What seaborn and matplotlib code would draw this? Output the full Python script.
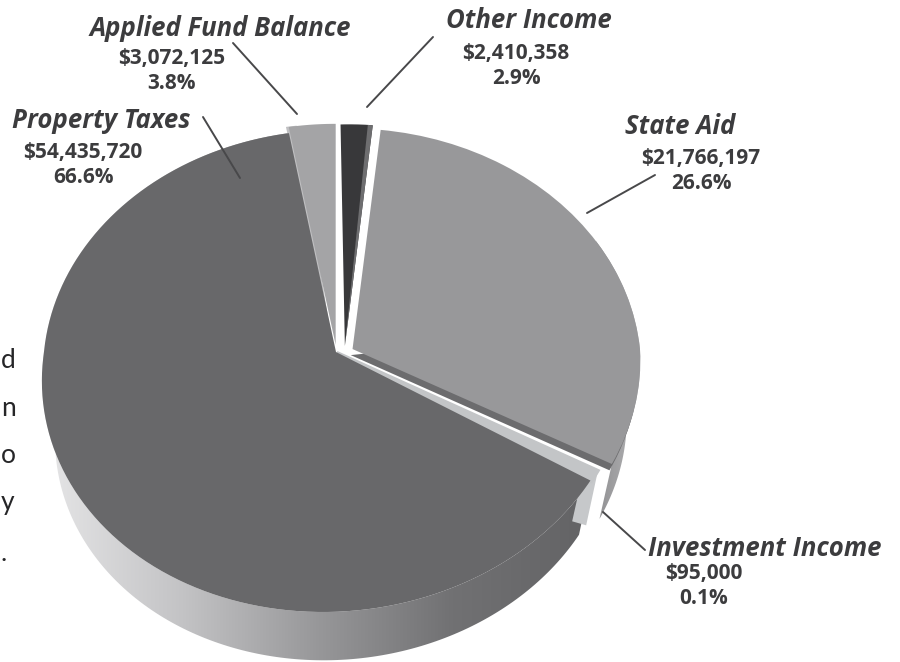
import numpy as np
import matplotlib
matplotlib.use("Agg")
import matplotlib.pyplot as plt
import matplotlib.transforms as mtransforms
from matplotlib.colors import LinearSegmentedColormap
from matplotlib.patches import Polygon, Wedge
from matplotlib.path import Path
import seaborn as sns

# Revenue sources, in the order they run counter-clockwise around the pie
sources = ["Property Taxes", "Investment Income", "State Aid", "Other Income", "Applied Fund Balance"]
amounts = [54435720, 95000, 21766197, 2410358, 3072125]
amount_labels = ["$54,435,720", "$95,000", "$21,766,197", "$2,410,358", "$3,072,125"]
share_labels = ["66.6%", "0.1%", "26.6%", "2.9%", "3.8%"]
top_colors = ["#68686a", "#c3c5c7", "#98989a", "#38383a", "#a4a4a6"]

# Sideways and upward pull of each slice, in pie radii
slice_offsets = [(0.0, 0.0), (0.003, -0.002), (0.056, 0.015), (0.031, 0.025), (0.0, 0.03)]
slice_radii = [1.0, 1.0, 0.985, 1.0, 1.0]

# Fragment of the neighbouring column of body text at the page edge
margin_letters = ["d", "n", "o", "y", "."]
margin_baselines = [368, 416, 463, 510, 561]

START_ANGLE = 100.5
# The drawn view squeezes the slices facing away and stretches the near ones
VIEW_IN = [100.5, 340.13, 340.55, 436.37, 446.98, 460.5]
VIEW_OUT = [100.0, 329.0, 332.0, 444.0, 450.0, 460.0]


class DiscProjection(mtransforms.Transform):
    """Tilted-disc perspective: unit-pie coordinates to page pixels."""
    input_dims = 2
    output_dims = 2
    has_inverse = False

    def __init__(self, cx=336.0, cy=352.0, a=292.0, b=239.5, k=0.0788, lean=12.0,
                 scale=1.0, drop=0.0):
        super().__init__()
        self.p = (cx, cy, a, b, k, lean, scale, drop)

    def transform_non_affine(self, values):
        cx, cy, a, b, k, lean, scale, drop = self.p
        x0, y0 = values[:, 0], values[:, 1]
        r = np.hypot(x0, y0)
        th = (np.degrees(np.arctan2(y0, x0)) - VIEW_IN[0]) % 360 + VIEW_IN[0]
        th = np.deg2rad(np.interp(th, VIEW_IN, VIEW_OUT))
        x, y = r * np.cos(th), r * np.sin(th)
        w = 1 + k * y
        return np.column_stack([cx + scale * (a * x + lean * np.minimum(y, 0.0)) / w,
                                cy - scale * b * y / w + drop])

    def transform_path_non_affine(self, path):
        # Flatten the arcs first so the rim follows the view exactly
        fine = path.transformed(mtransforms.Affine2D().scale(500)).to_polygons(closed_only=True)[0] / 500
        return Path(self.transform_non_affine(fine), closed=True)


sns.set_theme(style="white")
plt.rcParams["font.family"] = ["Open Sans", "DejaVu Sans"]
ink = "#3c3c3e"

fig = plt.figure(figsize=(9.0, 6.62), dpi=100, facecolor="white")
ax = fig.add_axes([0, 0, 1, 1])

top = DiscProjection()
rim = DiscProjection(scale=0.955, drop=60.0)

# Top faces, built by the pie layout from the amounts
wedges, _ = ax.pie(amounts, startangle=START_ANGLE, counterclock=True,
                   colors=top_colors, radius=1.0,
                   wedgeprops=dict(linewidth=0, zorder=5))
for w, off, rad in zip(wedges, slice_offsets, slice_radii):
    w.set_center(off)
    w.set_radius(rad)
    w.set_transform(top + ax.transData)
ax.set_aspect("auto")
ax.set_xlim(0, 900)
ax.set_ylim(662, 0)
ax.set_axis_off()

wedges[1].set_edgecolor(top_colors[1])
wedges[1].set_linewidth(2.5)
wedges[1].set_zorder(4.6)
wedges[4].set_zorder(4.8)


def facet(source, dtheta1, dtheta2, color, z, shift=(0.0, 0.0)):
    """Narrow band cut from a slice, used for its shaded side faces."""
    c = (source.center[0] + shift[0], source.center[1] + shift[1])
    ax.add_patch(Wedge(c, source.r, source.theta1 + dtheta1, source.theta1 + dtheta2,
                       facecolor=color, edgecolor="none", zorder=z,
                       transform=top + ax.transData))


# Dark cut face of the state aid slice, lit edge of applied fund balance, shaded side of other income
facet(wedges[2], 0, 30, "#6c6c6e", 4.4, shift=(-0.004, -0.022))
span_applied = wedges[4].theta2 - wedges[4].theta1
facet(wedges[4], span_applied - 3, span_applied, "#c0c0c2", 4.7, shift=(-0.012, 0.0))
facet(wedges[3], 0, 0.9, "#6e6e70", 5.2)


def wall(theta1, theta2, center, radius, colors, x0, x1, z):
    """Outer rim of a slice as a shaded band between the top and lower arcs."""
    t = np.deg2rad(np.linspace(theta1, theta2, 240))
    pts = np.column_stack([center[0] + radius * np.cos(t), center[1] + radius * np.sin(t)])
    upper = top.transform(pts)
    lower = rim.transform(pts)
    band = Polygon(np.vstack([upper, lower[::-1]]), closed=True, transform=ax.transData,
                   facecolor="none", edgecolor="none")
    ax.add_patch(band)
    cmap = LinearSegmentedColormap.from_list("rim", colors)
    im = ax.imshow(np.linspace(0, 1, 256)[None, :], cmap=cmap, aspect="auto",
                   extent=[x0, x1, 662, 0], zorder=z, interpolation="bilinear")
    im.set_clip_path(band)


wall(wedges[0].theta1, wedges[0].theta2, wedges[0].center, wedges[0].r,
     ["#e6e6e7", "#c4c4c6", "#98989a", "#717173", "#636365"], 42, 590, 2)
wall(wedges[2].theta1, wedges[2].theta2, wedges[2].center, wedges[2].r,
     ["#909092", "#a2a2a4", "#b4b4b6"], 596, 640, 2)

# Flat end face of the sliver, running down from its outer corner
a = np.deg2rad(wedges[1].theta2)
corner = np.array(wedges[1].center) + np.array([np.cos(a), np.sin(a)])
p = top.transform(corner[None, :])[0]
q = rim.transform(corner[None, :])[0]
ax.add_patch(Polygon([p, q, q + [-14, -4], p + [-14, -2]], closed=True,
                     facecolor="#c6c8ca", edgecolor="none", zorder=3))

# Leader lines from each caption to its slice
leaders = {
    "Property Taxes": ((203, 117), (240, 178)),
    "Applied Fund Balance": ((233, 43), (297, 114)),
    "Other Income": ((433, 37), (367, 107)),
    "State Aid": ((655, 175), (587, 213)),
    "Investment Income": ((603, 512), (645, 550)),
}
for (x0, y0), (x1, y1) in leaders.values():
    ax.plot([x0, x1], [y0, y1], color="#48484a", lw=1.4, zorder=7, solid_capstyle="round")

# Captions: name in bold italic, then amount and share
name_pos = {
    "Property Taxes": (101, 120),
    "Applied Fund Balance": (220, 28),
    "Other Income": (529, 20),
    "State Aid": (680, 126),
    "Investment Income": (765, 548),
}
value_pos = {
    "Property Taxes": (83, 165),
    "Applied Fund Balance": (172, 71),
    "Other Income": (516, 66),
    "State Aid": (701, 171),
    "Investment Income": (704, 586),
}
for name, amount, share in zip(sources, amount_labels, share_labels):
    x, y = name_pos[name]
    ax.text(x, y, name, fontsize=18.5, fontweight="bold", fontstyle="italic", color=ink,
            ha="center", va="center", zorder=8)
    x, y = value_pos[name]
    ax.text(x, y, f"{amount}\n{share}", fontsize=15, fontweight="bold", color=ink,
            ha="center", va="center", linespacing=1.2, zorder=8)

for letter, row in zip(margin_letters, margin_baselines):
    ax.text(1, row, letter, fontsize=19, family=["Lato", "DejaVu Sans"], color="#262628",
            ha="left", va="baseline", zorder=8)

ax.set_xlim(0, 900)
ax.set_ylim(662, 0)
fig.savefig("out.png", dpi=100, facecolor="white")
